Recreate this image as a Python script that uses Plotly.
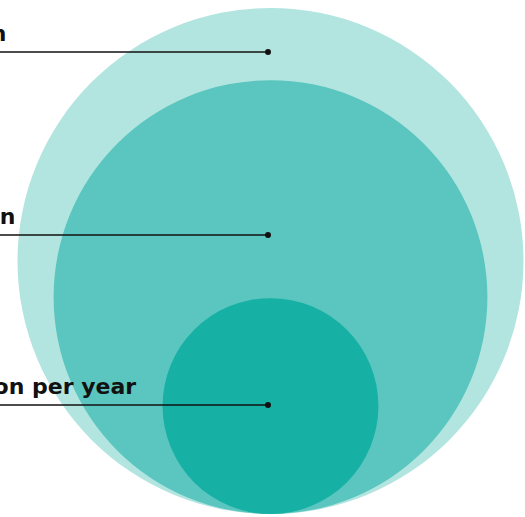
import numpy as np
import plotly.graph_objects as go

labels = ["2.8 billion", "2.1 billion", "1.6 billion per year"]
values = [100.0, 73.5, 18.2]
colors = ["#b3e5e0", "#5bc6bf", "#17b0a5"]

# layout helpers (pixel-like units)
W, H = 525, 517
cx = 270.5
base = 0.0
scale = 253.0 / np.sqrt(values[0])
dot_y = [462, 279, 109]
dot_x = 268
text_end_x = [8, 17, 138]

fig = go.Figure()

shapes = []
for v, c in zip(values, colors):
    r = scale * np.sqrt(v)
    shapes.append(dict(type="circle", xref="x", yref="y",
                       x0=cx - r, x1=cx + r, y0=base, y1=base + 2 * r,
                       fillcolor=c, line=dict(width=0), layer="below"))

for y in dot_y:
    fig.add_trace(go.Scatter(x=[-5, dot_x], y=[y, y], mode="lines",
                             line=dict(color="#111111", width=1.5),
                             hoverinfo="skip", showlegend=False))
fig.add_trace(go.Scatter(x=[dot_x] * 3, y=dot_y, mode="markers",
                         marker=dict(color="#111111", size=6),
                         hoverinfo="skip", showlegend=False, cliponaxis=False))

annotations = []
for lab, y, xe in zip(labels, dot_y, text_end_x):
    annotations.append(dict(x=xe, y=y + 4, xref="x", yref="y", text="<b>" + lab + "</b>",
                            showarrow=False, xanchor="right", yanchor="bottom",
                            font=dict(family="DejaVu Sans", size=22, color="#111111")))

fig.update_layout(
    width=W, height=H, margin=dict(l=0, r=0, t=0, b=0),
    paper_bgcolor="white", plot_bgcolor="white",
    shapes=shapes, annotations=annotations,
    xaxis=dict(range=[0, W], visible=False, fixedrange=True),
    yaxis=dict(range=[-3, H - 3], visible=False, fixedrange=True),
    showlegend=False,
)

fig.write_html("out.html")
